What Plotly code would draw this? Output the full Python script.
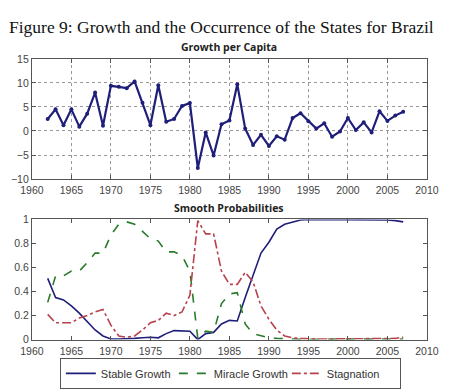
import plotly.graph_objects as go

years_g = list(range(1962, 2008))
growth = [2.5, 4.5, 1.2, 4.5, 0.9, 3.6, 8.0, 1.1, 9.4, 9.2, 8.9, 10.3, 5.9, 1.2,
          9.5, 1.9, 2.5, 5.2, 5.8, -7.7, -0.3, -5.1, 1.4, 2.2, 9.7, 0.5, -2.9,
          -0.8, -3.1, -1.1, -1.8, 2.7, 3.7, 2.0, 0.5, 1.6, -1.2, -0.1, 2.7, 0.2,
          1.8, -0.3, 4.1, 2.1, 3.2, 4.0]

years_p = list(range(1962, 2008))
stable = [0.51, 0.35, 0.33, 0.28, 0.22, 0.15, 0.08, 0.03, 0.005, 0.005, 0.005, 0.01,
          0.015, 0.02, 0.015, 0.05, 0.075, 0.075, 0.07, 0.0, 0.05, 0.06, 0.13, 0.16,
          0.155, 0.35, 0.54, 0.72, 0.81, 0.92, 0.96, 0.98, 0.995, 1.0, 1.0, 1.0, 1.0,
          1.0, 1.0, 1.0, 1.0, 1.0, 0.995, 0.995, 0.99, 0.98]
miracle = [0.31, 0.53, 0.53, 0.57, 0.57, 0.64, 0.72, 0.72, 0.87, 0.96, 0.98, 0.96,
           0.90, 0.84, 0.82, 0.73, 0.73, 0.70, 0.57, 0.01, 0.07, 0.06, 0.30, 0.38,
           0.39, 0.13, 0.05, 0.03, 0.015, 0.01, 0.01, 0.005, 0.003, 0.003, 0.003,
           0.003, 0.003, 0.003, 0.003, 0.003, 0.003, 0.003, 0.003, 0.003, 0.003, 0.005]
stagnation = [0.21, 0.14, 0.14, 0.14, 0.18, 0.20, 0.23, 0.25, 0.12, 0.03, 0.02, 0.03,
              0.08, 0.14, 0.16, 0.22, 0.20, 0.23, 0.37, 0.99, 0.88, 0.88, 0.57, 0.46,
              0.46, 0.56, 0.48, 0.28, 0.17, 0.08, 0.03, 0.015, 0.01, 0.005, 0.005,
              0.005, 0.005, 0.005, 0.005, 0.005, 0.005, 0.005, 0.008, 0.008, 0.01, 0.02]

W, H = 455, 389
NAVY = "#1f1f7a"
GREEN = "#2a7a2a"
RED = "#b8424c"

fig = go.Figure()
fig.add_trace(go.Scatter(x=years_g, y=growth, mode="lines+markers", xaxis="x", yaxis="y",
                         line=dict(color=NAVY, width=2.2), marker=dict(color=NAVY, size=4),
                         showlegend=False))
fig.add_trace(go.Scatter(x=years_p, y=stable, mode="lines", xaxis="x2", yaxis="y2",
                         name="Stable Growth", line=dict(color=NAVY, width=1.6)))
fig.add_trace(go.Scatter(x=years_p, y=miracle, mode="lines", xaxis="x2", yaxis="y2",
                         name="Miracle Growth", line=dict(color=GREEN, width=1.6, dash="dash")))
fig.add_trace(go.Scatter(x=years_p, y=stagnation, mode="lines", xaxis="x2", yaxis="y2",
                         name="Stagnation", line=dict(color=RED, width=1.6, dash="dashdot")))

xdom = [21 / W, 438 / W]
tickfont = dict(family="Liberation Sans, Arial", size=10.5, color="#444444")
axcommon = dict(showline=True, linecolor="#555555", linewidth=1, mirror="ticks",
                ticks="inside", ticklen=4, tickcolor="#555555", tickfont=tickfont,
                zeroline=False)

fig.update_layout(
    width=W, height=H, margin=dict(l=0, r=0, t=0, b=0),
    paper_bgcolor="white", plot_bgcolor="white",
    xaxis=dict(domain=xdom, range=[1960, 2010], dtick=5, tick0=1960, anchor="y",
               ticklabelstandoff=1,
               showgrid=True, gridcolor="#999999", griddash="dot", gridwidth=1, **axcommon),
    yaxis=dict(domain=[1 - 180 / H, 1 - 55 / H], range=[-10, 15], dtick=5, anchor="x",
               showgrid=True, gridcolor="#999999", griddash="dot", gridwidth=1, **axcommon),
    xaxis2=dict(domain=xdom, range=[1960, 2010], dtick=5, tick0=1960, anchor="y2",
                ticklabelstandoff=2, showgrid=False, **axcommon),
    yaxis2=dict(domain=[1 - 347 / H, 1 - 222 / H], range=[0, 1], dtick=0.2, anchor="x2",
                showgrid=False, **axcommon),
    legend=dict(orientation="h", x=230.5 / W, xanchor="center", y=1 - 366 / H, yanchor="top",
                bordercolor="#555555", borderwidth=1, bgcolor="white",
                font=dict(family="Liberation Sans, Arial", size=11, color="#333333"),
                entrywidth=68, entrywidthmode="pixels", tracegroupgap=0),
    annotations=[
        dict(text="Figure 9: Growth and the Occurrence of the States for Brazil",
             x=221 / W, y=1 - 22 / H, xref="paper", yref="paper", showarrow=False,
             xanchor="center", yanchor="middle",
             font=dict(family="Liberation Serif, Times New Roman", size=17.5, color="#111111")),
        dict(text="<b>Growth per Capita</b>", x=229.5 / W, y=1 - 43 / H, xref="paper",
             yref="paper", showarrow=False, xanchor="center", yanchor="middle",
             font=dict(family="Open Sans", size=10.5, color="#222222")),
        dict(text="<b>Smooth Probabilities</b>", x=229.5 / W, y=1 - 210 / H, xref="paper",
             yref="paper", showarrow=False, xanchor="center", yanchor="middle",
             font=dict(family="Open Sans", size=10.5, color="#222222")),
    ],
)

fig.write_html("out.html")
